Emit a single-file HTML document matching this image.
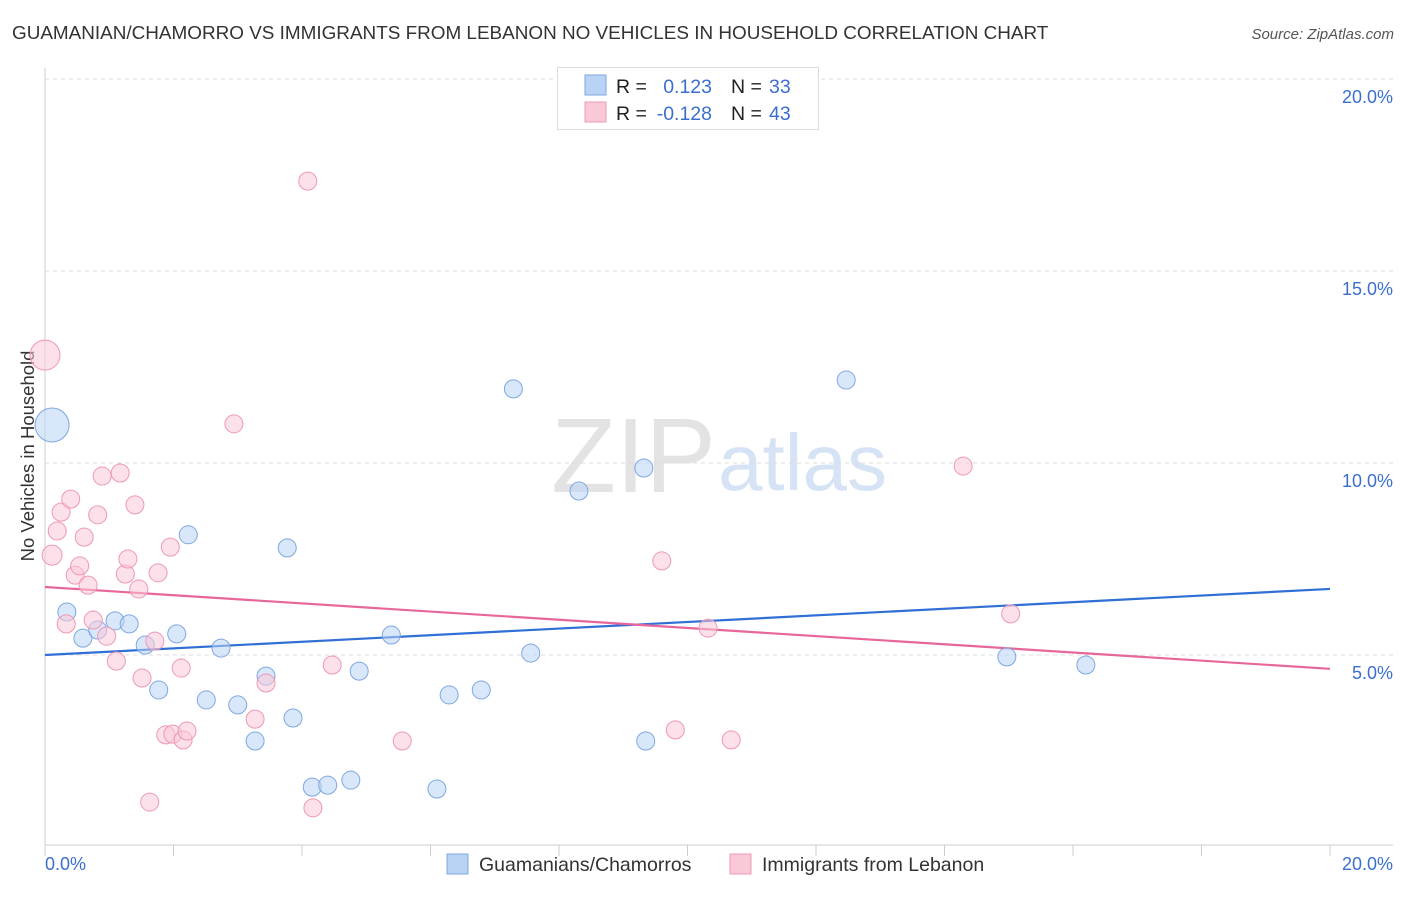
<!DOCTYPE html>
<html><head><meta charset="utf-8"><style>
body{margin:0;background:#fff;font-family:"Liberation Sans",sans-serif;}
svg text{font-family:"Liberation Sans",sans-serif;}
</style></head><body>
<svg id="chart" width="1406" height="892">
<text x="12" y="39" font-size="18.9" fill="#333">GUAMANIAN/CHAMORRO VS IMMIGRANTS FROM LEBANON NO VEHICLES IN HOUSEHOLD CORRELATION CHART</text>
<text x="1394" y="39" font-size="15" fill="#555" font-style="italic" text-anchor="end">Source: ZipAtlas.com</text>
<text transform="translate(34,456) rotate(-90)" font-size="18.5" fill="#333" text-anchor="middle">No Vehicles in Household</text>
<text x="716" y="492" font-size="106" fill="#e3e3e3" font-family="Liberation Serif" text-anchor="end">ZIP</text>
<text x="718" y="490" font-size="80" fill="#d6e3f5" text-anchor="start">atlas</text>
<g id="grid"></g><g id="axes"></g><g id="trend"></g><g id="pts"></g>
<g>
<rect x="557.5" y="67.5" width="261" height="62" fill="#fff" stroke="#ddd"/>
<rect x="585" y="75" width="21" height="20" fill="#b9d3f5" stroke="#7ea7e2"/>
<rect x="585" y="102" width="21" height="20" fill="#fac9d8" stroke="#ef98b3"/>
<text x="616" y="93" font-size="19.5" fill="#222">R =</text><text x="712" y="93" font-size="19.5" fill="#3b6fcf" text-anchor="end">0.123</text>
<text x="731" y="93" font-size="19.5" fill="#222">N =</text><text x="769" y="93" font-size="19.5" fill="#3b6fcf">33</text>
<text x="616" y="120" font-size="19.5" fill="#222">R =</text><text x="712" y="120" font-size="19.5" fill="#3b6fcf" text-anchor="end">-0.128</text>
<text x="731" y="120" font-size="19.5" fill="#222">N =</text><text x="769" y="120" font-size="19.5" fill="#3b6fcf">43</text>
</g>
<g>
<rect x="447" y="854" width="21" height="20" fill="#b9d3f5" stroke="#7ea7e2"/>
<text x="479" y="871" font-size="19.5" fill="#333">Guamanians/Chamorros</text>
<rect x="730" y="854" width="21" height="20" fill="#fac9d8" stroke="#ef98b3"/>
<text x="762" y="871" font-size="19.5" fill="#333">Immigrants from Lebanon</text>
</g>
</svg>
<script>
const yTicks=[5,10,15,20];
const yTickLabels=["5.0%","10.0%","15.0%","20.0%"];
const blueX=[0.11,0.34,0.59,0.82,1.09,1.31,1.56,1.77,2.05,2.23,2.51,2.74,3.00,3.27,3.44,3.77,3.86,4.16,4.40,4.76,4.89,5.39,6.10,6.29,6.79,7.29,7.56,8.31,9.32,9.35,12.47,14.97,16.20];
const blueY=[10.99,6.12,5.44,5.65,5.89,5.81,5.26,4.09,5.55,8.13,3.83,5.18,3.70,2.76,4.45,7.79,3.36,1.56,1.61,1.74,4.58,5.52,1.51,3.96,4.09,11.93,5.05,9.27,9.87,2.76,12.16,4.95,4.74];
const pinkX=[0.00,0.11,0.19,0.25,0.33,0.40,0.47,0.54,0.61,0.67,0.75,0.82,0.89,0.96,1.11,1.17,1.25,1.29,1.40,1.46,1.51,1.63,1.71,1.76,1.88,1.95,1.99,2.12,2.15,2.21,2.94,3.27,3.44,4.09,4.17,4.47,5.56,9.60,9.81,10.32,10.68,14.29,15.03];
const pinkY=[12.81,7.60,8.23,8.72,5.81,9.06,7.08,7.32,8.07,6.82,5.91,8.65,9.66,5.49,4.84,9.74,7.11,7.50,8.91,6.72,4.40,1.17,5.36,7.14,2.92,7.81,2.94,4.66,2.79,3.02,11.02,3.33,4.27,17.34,1.02,4.74,2.76,7.45,3.05,5.70,2.79,9.92,6.07];
const blueTrend=[5.0,6.72];
const pinkTrend=[6.77,4.64];
const NS="http://www.w3.org/2000/svg";
const X=v=>45+v/20*1285, Y=v=>847-v*38.4;
function mk(tag,attrs,parent){const e=document.createElementNS(NS,tag);for(const k in attrs)e.setAttribute(k,attrs[k]);document.getElementById(parent).appendChild(e);return e;}
yTicks.forEach((t,i)=>{
 const g=mk('line',{x1:45,x2:1393,y1:Y(t),y2:Y(t),stroke:'#ddd','stroke-dasharray':'4,4'},'grid');
 
 
 const l=mk('text',{x:1393,y:Y(t)+24,'font-size':18,fill:'#3b6fcf','text-anchor':'end'},'grid');
 l.textContent=yTickLabels[i];
 
 
});
const ax=mk('line',{x1:45,x2:1393,y1:845,y2:845,stroke:'#ccc'},'axes');


const ay=mk('line',{x1:45,x2:45,y1:68,y2:845,stroke:'#ccc'},'axes');


for(let i=0;i<=10;i++){const t=mk('line',{x1:X(i*2),x2:X(i*2),y1:845,y2:856,stroke:'#ccc'},'axes');
 
 }
const xl0=mk('text',{x:45,y:870,'font-size':18,fill:'#3b6fcf'},'axes');xl0.textContent='0.0%';


const xl1=mk('text',{x:1393,y:870,'font-size':18,fill:'#3b6fcf','text-anchor':'end'},'axes');xl1.textContent='20.0%';


function dots(xs,ys,fill,stroke,name,big){xs.forEach((x,i)=>{
 const r=(big[i]||9);
 const c=mk('circle',{cx:X(x),cy:Y(ys[i]),r:r,fill:fill,stroke:stroke,'stroke-width':1,'fill-opacity':0.55},'pts');
 
 
});}
dots(blueX,blueY,'#b9d3f5','#7ea7e2','point-guamanian',{0:17});
dots(pinkX,pinkY,'#fac9d8','#ef98b3','point-lebanon',{0:15,1:10});
const tb=mk('line',{x1:X(0),x2:X(20),y1:Y(blueTrend[0]),y2:Y(blueTrend[1]),stroke:'#2f6fd6','stroke-width':2.2},'trend');


const tp=mk('line',{x1:X(0),x2:X(20),y1:Y(pinkTrend[0]),y2:Y(pinkTrend[1]),stroke:'#e8679a','stroke-width':2.2},'trend');


</script>
</body></html>
